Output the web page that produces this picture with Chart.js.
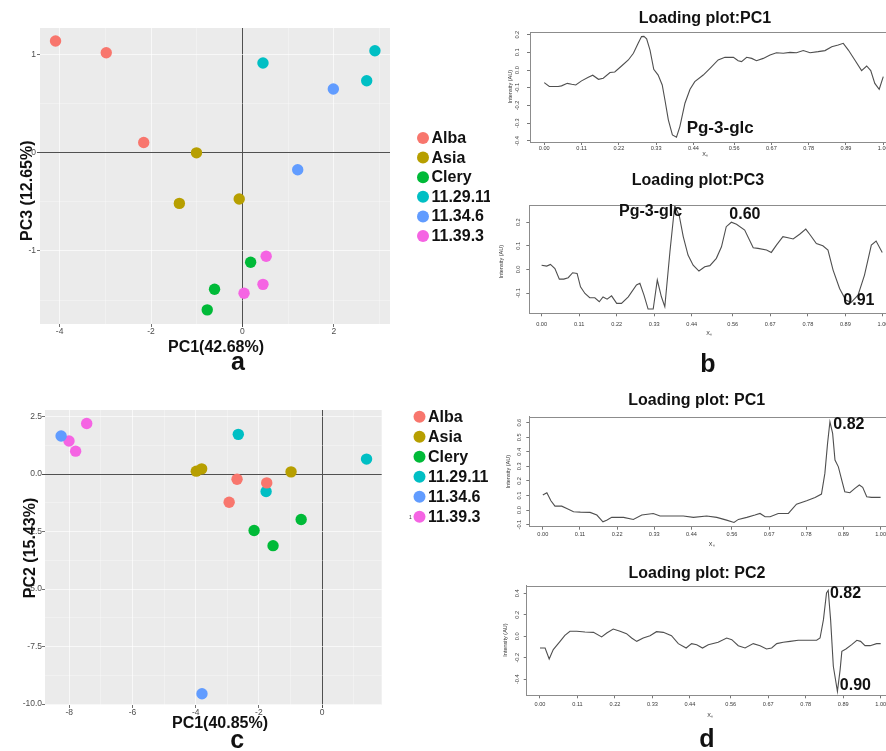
<!DOCTYPE html>
<html>
<head>
<meta charset="utf-8">
<script src="https://cdn.jsdelivr.net/npm/chart.js@4.4.1/dist/chart.umd.min.js"></script>
<style>
  html, body { margin: 0; padding: 0; background: #ffffff; }
  body { width: 886px; height: 751px; position: relative; overflow: hidden; }
  canvas { position: absolute; display: block; }
</style>
</head>
<body>
<canvas id="cA" width="490" height="378" style="left:0px;top:0px;width:490px;height:378px"></canvas>
<canvas id="cC" width="490" height="373" style="left:0px;top:378px;width:490px;height:373px"></canvas>
<canvas id="cB1" width="396" height="165" style="left:490px;top:0px;width:396px;height:165px"></canvas>
<canvas id="cB2" width="396" height="213" style="left:490px;top:165px;width:396px;height:213px"></canvas>
<canvas id="cD1" width="396" height="182" style="left:490px;top:378px;width:396px;height:182px"></canvas>
<canvas id="cD2" width="396" height="191" style="left:490px;top:560px;width:396px;height:191px"></canvas>
<script>
// ---------------- DATA ----------------
const GROUPS = ["Alba", "Asia", "Clery", "11.29.11", "11.34.6", "11.39.3"];
const GROUP_COLORS = ["#F8766D", "#B79F00", "#00BA38", "#00BFC4", "#619CFF", "#F564E3"];

// Panel a: PC1 vs PC3 scores
const A_ALBA_X = [-4.09, -2.98, -2.16];   const A_ALBA_Y = [1.14, 1.02, 0.105];
const A_ASIA_X = [-1.005, -1.38, -0.07];  const A_ASIA_Y = [0.0, -0.515, -0.47];
const A_CLERY_X = [0.18, -0.61, -0.77];   const A_CLERY_Y = [-1.115, -1.39, -1.60];
const A_G2911_X = [0.45, 2.90, 2.72];     const A_G2911_Y = [0.915, 1.04, 0.735];
const A_G346_X = [1.99, 1.21];            const A_G346_Y = [0.65, -0.173];
const A_G393_X = [0.52, 0.45, 0.036];     const A_G393_Y = [-1.054, -1.34, -1.43];
const A_X_TICKS = [-4, -2, 0, 2];         const A_X_LABELS = ["-4", "-2", "0", "2"];
const A_Y_TICKS = [1, 0, -1];             const A_Y_LABELS = ["1", "0", "-1"];

// Panel c: PC1 vs PC2 scores
const C_ALBA_X = [-2.69, -1.75, -2.94];   const C_ALBA_Y = [-0.22, -0.38, -1.22];
const C_ASIA_X = [-3.98, -3.81, -0.98];   const C_ASIA_Y = [0.13, 0.23, 0.10];
const C_CLERY_X = [-2.15, -0.66, -1.55];  const C_CLERY_Y = [-2.45, -1.97, -3.11];
const C_G2911_X = [-2.65, 1.41, -1.77];   const C_G2911_Y = [1.73, 0.655, -0.757];
const C_G346_X = [-8.26, -3.80];          const C_G346_Y = [1.66, -9.55];
const C_G393_X = [-7.45, -8.01, -7.80];   const C_G393_Y = [2.20, 1.44, 1.00];
const C_X_TICKS = [-8, -6, -4, -2, 0];    const C_X_LABELS = ["-8", "-6", "-4", "-2", "0"];
const C_Y_TICKS = [2.5, 0, -2.5, -5, -7.5, -10];
const C_Y_LABELS = ["2.5", "0.0", "-2.5", "-5.0", "-7.5", "-10.0"];

// Loading plots (x = relative position, y = intensity)
const LOAD_X_LABELS = ["0.00", "0.11", "0.22", "0.33", "0.44", "0.56", "0.67", "0.78", "0.89", "1.00"];

const B1_X = [0, 0.015, 0.041, 0.051, 0.068, 0.081, 0.093, 0.11, 0.13, 0.143, 0.16, 0.174, 0.194, 0.208, 0.228, 0.248, 0.263, 0.277, 0.287, 0.294, 0.302, 0.312, 0.323, 0.336, 0.348, 0.356, 0.366, 0.378, 0.39, 0.4, 0.415, 0.43, 0.444, 0.469, 0.489, 0.513, 0.533, 0.558, 0.572, 0.582, 0.597, 0.612, 0.626, 0.646, 0.666, 0.685, 0.705, 0.725, 0.744, 0.764, 0.784, 0.808, 0.828, 0.848, 0.867, 0.882, 0.897, 0.916, 0.936, 0.951, 0.963, 0.975, 0.988, 1.0];
const B1_Y = [-0.071, -0.093, -0.093, -0.089, -0.075, -0.080, -0.084, -0.061, -0.040, -0.029, -0.052, -0.046, -0.014, -0.011, 0.023, 0.057, 0.095, 0.151, 0.189, 0.190, 0.177, 0.113, 0.004, -0.028, -0.084, -0.169, -0.281, -0.366, -0.379, -0.319, -0.187, -0.108, -0.065, -0.028, 0.010, 0.057, 0.072, 0.072, 0.053, 0.048, 0.072, 0.066, 0.053, 0.066, 0.085, 0.098, 0.095, 0.100, 0.098, 0.110, 0.098, 0.104, 0.110, 0.132, 0.142, 0.151, 0.113, 0.057, -0.003, 0.023, -0.003, -0.075, -0.108, -0.037];
const B1_Y_LABELS = ["0.2", "0.1", "0.0", "-0.1", "-0.2", "-0.3", "-0.4"];

const B2_X = [0, 0.015, 0.026, 0.039, 0.052, 0.065, 0.078, 0.091, 0.104, 0.114, 0.127, 0.141, 0.156, 0.169, 0.18, 0.192, 0.205, 0.22, 0.234, 0.254, 0.278, 0.288, 0.3, 0.312, 0.327, 0.339, 0.351, 0.361, 0.376, 0.39, 0.403, 0.415, 0.429, 0.444, 0.461, 0.478, 0.493, 0.512, 0.527, 0.541, 0.556, 0.571, 0.595, 0.62, 0.634, 0.659, 0.673, 0.688, 0.707, 0.722, 0.737, 0.756, 0.774, 0.787, 0.805, 0.824, 0.839, 0.854, 0.873, 0.891, 0.907, 0.927, 0.946, 0.966, 0.98, 0.998];
const B2_Y = [0.018, 0.014, 0.021, 0.004, -0.041, -0.041, -0.035, -0.014, -0.017, -0.074, -0.102, -0.120, -0.120, -0.137, -0.117, -0.126, -0.112, -0.144, -0.144, -0.116, -0.066, -0.059, -0.109, -0.168, -0.168, -0.045, -0.116, -0.158, 0.075, 0.27, 0.23, 0.139, 0.061, 0.018, -0.007, 0.011, 0.016, 0.047, 0.096, 0.181, 0.200, 0.191, 0.167, 0.092, 0.089, 0.082, 0.072, 0.103, 0.139, 0.134, 0.129, 0.149, 0.171, 0.146, 0.110, 0.100, 0.082, -0.003, -0.081, -0.130, -0.140, -0.109, -0.024, 0.103, 0.120, 0.072];
const B2_Y_LABELS = ["0.2", "0.1", "0.0", "-0.1"];

const D1_X = [0, 0.012, 0.024, 0.036, 0.056, 0.071, 0.091, 0.111, 0.14, 0.16, 0.178, 0.189, 0.204, 0.239, 0.268, 0.293, 0.327, 0.347, 0.387, 0.416, 0.446, 0.485, 0.515, 0.544, 0.566, 0.579, 0.604, 0.628, 0.643, 0.658, 0.673, 0.697, 0.727, 0.751, 0.781, 0.806, 0.825, 0.835, 0.843, 0.85, 0.858, 0.865, 0.875, 0.885, 0.894, 0.909, 0.924, 0.937, 0.947, 0.959, 0.973, 1.0];
const D1_Y = [0.103, 0.119, 0.064, 0.027, 0.027, 0.011, -0.011, -0.014, -0.016, -0.034, -0.080, -0.069, -0.050, -0.050, -0.064, -0.034, -0.023, -0.041, -0.041, -0.041, -0.050, -0.041, -0.050, -0.069, -0.085, -0.064, -0.050, -0.034, -0.023, -0.046, -0.046, -0.023, -0.023, 0.041, 0.064, 0.087, 0.110, 0.252, 0.458, 0.606, 0.526, 0.343, 0.297, 0.206, 0.126, 0.119, 0.149, 0.172, 0.156, 0.092, 0.087, 0.087];
const D1_Y_LABELS = ["0.6", "0.5", "0.4", "0.3", "0.2", "0.1", "0.0", "-0.1"];

const D2_X = [0, 0.015, 0.027, 0.039, 0.059, 0.073, 0.088, 0.108, 0.132, 0.157, 0.181, 0.196, 0.215, 0.235, 0.254, 0.269, 0.284, 0.303, 0.323, 0.342, 0.362, 0.386, 0.406, 0.429, 0.445, 0.46, 0.477, 0.494, 0.523, 0.548, 0.563, 0.582, 0.602, 0.626, 0.646, 0.665, 0.68, 0.695, 0.714, 0.734, 0.758, 0.783, 0.812, 0.822, 0.832, 0.841, 0.846, 0.853, 0.861, 0.873, 0.881, 0.886, 0.898, 0.915, 0.93, 0.941, 0.954, 0.969, 0.988, 1.0];
const D2_Y = [-0.109, -0.109, -0.211, -0.124, -0.047, 0.009, 0.047, 0.047, 0.040, 0.037, -0.006, 0.031, 0.068, 0.047, 0.025, -0.016, -0.047, -0.016, 0.006, 0.043, 0.037, 0.006, -0.068, -0.109, -0.068, -0.078, -0.109, -0.078, -0.056, -0.016, -0.031, -0.087, -0.109, -0.068, -0.087, -0.118, -0.109, -0.068, -0.056, -0.047, -0.037, -0.037, -0.037, -0.016, 0.155, 0.403, 0.428, 0.155, -0.279, -0.512, -0.310, -0.140, -0.118, -0.078, -0.037, -0.047, -0.087, -0.087, -0.068, -0.068];
const D2_Y_LABELS = ["0.4", "0.2", "0.0", "-0.2", "-0.4"];

// Peak annotations (text, x, y in data units)
const B1_NOTES = [["Pg-3-glc", 0.42, -0.33]];
const B2_NOTES = [["Pg-3-glc", 0.227, 0.244], ["0.60", 0.55, 0.233], ["0.91", 0.884, -0.134]];
const D1_NOTES = [["0.82", 0.86, 0.584]];
const D2_NOTES = [["0.82", 0.851, 0.393], ["0.90", 0.88, -0.462]];

// ---------------- HELPERS ----------------
const FF = "'Liberation Sans', Arial, Helvetica, sans-serif";
const near = (a, b) => Math.abs(a - b) < 1e-9;

function textPlugin(items) {
  return {
    id: 'txt',
    afterDraw(chart) {
      const c = chart.ctx;
      items.forEach(it => {
        c.save();
        c.font = it.font;
        c.fillStyle = it.color || '#111111';
        c.textAlign = it.align || 'center';
        c.textBaseline = 'middle';
        c.translate(it.x, it.y);
        if (it.rot) c.rotate(it.rot * Math.PI / 180);
        c.fillText(it.t, 0, 0);
        c.restore();
      });
    }
  };
}

function notesPlugin(notes, font) {
  return {
    id: 'notes',
    afterDraw(chart) {
      const c = chart.ctx, sx = chart.scales.x, sy = chart.scales.y;
      c.save();
      c.font = font;
      c.fillStyle = '#111111';
      c.textAlign = 'left';
      c.textBaseline = 'middle';
      notes.forEach(n => c.fillText(n[0], sx.getPixelForValue(n[1]), sy.getPixelForValue(n[2])));
      c.restore();
    }
  };
}

const panelBg = {
  id: 'panelBg',
  beforeDraw(chart) {
    const a = chart.chartArea, c = chart.ctx;
    c.save();
    c.fillStyle = '#EBEBEB';
    c.fillRect(a.left, a.top, a.right - a.left, a.bottom - a.top);
    c.restore();
  }
};

function legendPlugin(lx, ly, gap, r) {
  return {
    id: 'lg',
    afterDraw(chart) {
      const c = chart.ctx;
      c.save();
      chart.data.datasets.forEach((ds, i) => {
        const y = ly + i * gap;
        c.beginPath();
        c.arc(lx, y, r, 0, Math.PI * 2);
        c.fillStyle = ds.backgroundColor;
        c.fill();
        c.font = "bold 16px " + FF;
        c.fillStyle = '#111111';
        c.textAlign = 'left';
        c.textBaseline = 'middle';
        c.fillText(ds.label, lx + r + 2.5, y + 0.5);
      });
      c.restore();
    }
  };
}

function scatterAxis(min, max, major, minor, labels, isX, size, tl, pad) {
  const all = major.concat(minor);
  const isMajor = v => major.some(m => near(m, v));
  return {
    type: 'linear', min: min, max: max,
    afterBuildTicks: s => { s.ticks = all.map(v => ({ value: v })); },
    afterFit: s => {
      if (isX) { s.height = size; s.paddingLeft = 0; s.paddingRight = 0; }
      else { s.width = size; s.paddingTop = 0; s.paddingBottom = 0; }
    },
    ticks: {
      autoSkip: false, maxRotation: 0, minRotation: 0, padding: pad,
      color: '#4D4D4D', font: { family: FF, size: 8.5 },
      callback: v => { const k = major.findIndex(m => near(m, v)); return k < 0 ? '' : labels[k]; }
    },
    grid: {
      color: c => (c.tick && near(c.tick.value, 0)) ? '#505050' : 'rgba(255,255,255,0.8)',
      lineWidth: c => (c.tick && near(c.tick.value, 0)) ? 1 : ((c.tick && isMajor(c.tick.value)) ? 0.8 : 0.4),
      tickColor: c => (c.tick && isMajor(c.tick.value)) ? '#4D4D4D' : 'rgba(0,0,0,0)',
      tickLength: tl
    },
    border: { display: false }
  };
}

function scatterChart(id, xs, ys, cfg) {
  const datasets = GROUPS.map((g, gi) => ({
    label: g,
    data: xs[gi].map((v, i) => ({ x: v, y: ys[gi][i] })),
    backgroundColor: GROUP_COLORS[gi],
    borderWidth: 0, pointRadius: 5.7, pointHoverRadius: 5.7
  }));
  return new Chart(document.getElementById(id), {
    type: 'scatter',
    data: { datasets: datasets },
    options: {
      responsive: false, animation: false, devicePixelRatio: 1, events: [],
      layout: { padding: cfg.pad },
      plugins: { legend: { display: false }, tooltip: { enabled: false }, title: { display: false } },
      scales: {
        x: scatterAxis(cfg.xMin, cfg.xMax, cfg.xMajor, cfg.xMinor, cfg.xLabels, true, cfg.xH, 3, cfg.xPad),
        y: scatterAxis(cfg.yMin, cfg.yMax, cfg.yMajor, cfg.yMinor, cfg.yLabels, false, cfg.yW, 3, cfg.yPad)
      }
    },
    plugins: [panelBg, textPlugin(cfg.texts), legendPlugin(cfg.lx, cfg.ly, cfg.lgap, 6)]
  });
}

const frameTop = {
  id: 'frameTop',
  afterDraw(chart) {
    const a = chart.chartArea, c = chart.ctx;
    c.save();
    c.strokeStyle = '#8C8C8C';
    c.lineWidth = 1;
    c.beginPath();
    c.moveTo(a.left, Math.round(a.top) + 0.5);
    c.lineTo(a.right, Math.round(a.top) + 0.5);
    c.stroke();
    c.restore();
  }
};

function loadingChart(id, X, Y, cfg) {
  const xVals = LOAD_X_LABELS.map(parseFloat);
  const yVals = cfg.yLabels.map(parseFloat);
  const tickFont = { family: FF, size: 5.6 };
  return new Chart(document.getElementById(id), {
    type: 'line',
    data: { datasets: [{ data: X.map((v, i) => ({ x: v, y: Y[i] })), borderColor: '#4F4F4F', borderWidth: 1.1, pointRadius: 0, tension: 0, fill: false }] },
    options: {
      responsive: false, animation: false, devicePixelRatio: 1, events: [],
      layout: { padding: cfg.pad },
      plugins: { legend: { display: false }, tooltip: { enabled: false }, title: { display: false } },
      scales: {
        x: {
          type: 'linear', min: cfg.xMin, max: cfg.xMax,
          afterBuildTicks: s => { s.ticks = xVals.map(v => ({ value: v })); },
          afterFit: s => { s.height = cfg.xH; s.paddingLeft = 0; s.paddingRight = 0; },
          ticks: { autoSkip: false, maxRotation: 0, minRotation: 0, padding: cfg.xPad, color: '#3A3A3A', font: tickFont,
                   callback: v => { const k = xVals.findIndex(m => near(m, v)); return k < 0 ? '' : LOAD_X_LABELS[k]; } },
          grid: { drawOnChartArea: false, tickLength: 3, tickColor: '#777777' },
          border: { display: true, color: '#8C8C8C', width: 1 }
        },
        y: {
          type: 'linear', min: cfg.yMin, max: cfg.yMax,
          afterBuildTicks: s => { s.ticks = yVals.map(v => ({ value: v })); },
          afterFit: s => { s.width = cfg.yW; s.paddingTop = 0; s.paddingBottom = 0; },
          ticks: { autoSkip: false, minRotation: 90, maxRotation: 90, crossAlign: 'center', padding: cfg.yPad, color: '#3A3A3A', font: tickFont,
                   callback: v => { const k = yVals.findIndex(m => near(m, v)); return k < 0 ? '' : cfg.yLabels[k]; } },
          grid: { drawOnChartArea: false, tickLength: 3, tickColor: '#777777' },
          border: { display: true, color: '#8C8C8C', width: 1 }
        }
      }
    },
    plugins: [frameTop, textPlugin(cfg.texts), notesPlugin(cfg.notes, cfg.noteFont || ("bold 16px " + FF))]
  });
}

// ---------------- CHARTS ----------------
const TITLE_FONT = "bold 16px " + FF;
const AXIS_FONT = "bold 16px " + FF;
const LETTER_FONT = "bold 25px " + FF;
const SMALL_FONT = "5.5px " + FF;

scatterChart('cA',
  [A_ALBA_X, A_ASIA_X, A_CLERY_X, A_G2911_X, A_G346_X, A_G393_X],
  [A_ALBA_Y, A_ASIA_Y, A_CLERY_Y, A_G2911_Y, A_G346_Y, A_G393_Y],
  {
    pad: { left: 0, top: 28, right: 100, bottom: 0 },
    xMin: -4.43, xMax: 3.23, xMajor: A_X_TICKS, xMinor: [-3, -1, 1, 3], xLabels: A_X_LABELS, xH: 54, xPad: 0,
    yMin: -1.744, yMax: 1.272, yMajor: A_Y_TICKS, yMinor: [0.5, -0.5, -1.5], yLabels: A_Y_LABELS, yW: 40, yPad: 1,
    lx: 423, ly: 138, lgap: 19.6,
    texts: [
      { t: 'PC1(42.68%)', x: 216, y: 348, font: AXIS_FONT },
      { t: 'PC3 (12.65%)', x: 27.7, y: 190.7, font: AXIS_FONT, rot: -90 },
      { t: 'a', x: 238, y: 363, font: LETTER_FONT }
    ]
  });

scatterChart('cC',
  [C_ALBA_X, C_ASIA_X, C_CLERY_X, C_G2911_X, C_G346_X, C_G393_X],
  [C_ALBA_Y, C_ASIA_Y, C_CLERY_Y, C_G2911_Y, C_G346_Y, C_G393_Y],
  {
    pad: { left: 0, top: 32, right: 108.3, bottom: 0 },
    xMin: -8.77, xMax: 1.89, xMajor: C_X_TICKS, xMinor: [-7, -5, -3, -1, 1], xLabels: C_X_LABELS, xH: 46, xPad: 0,
    yMin: -10.04, yMax: 2.79, yMajor: C_Y_TICKS, yMinor: [1.25, -1.25, -3.75, -6.25, -8.75], yLabels: C_Y_LABELS, yW: 45, yPad: 0,
    lx: 419.5, ly: 38.7, lgap: 20,
    texts: [
      { t: 'PC1(40.85%)', x: 220, y: 345.3, font: AXIS_FONT },
      { t: 'PC2 (15.43%)', x: 30.7, y: 170, font: AXIS_FONT, rot: -90 },
      { t: 'c', x: 237.3, y: 363, font: LETTER_FONT },
      { t: '1', x: 410.5, y: 140, font: "5px " + FF, color: '#333' }
    ]
  });

loadingChart('cB1', B1_X, B1_Y, {
  pad: { left: 0, top: 32, right: 0, bottom: 0 }, yW: 40, xH: 23, xPad: 0, yPad: 4.9,
  xMin: -0.042, xMax: 1.008, yMin: -0.406, yMax: 0.215, yLabels: B1_Y_LABELS,
  notes: B1_NOTES, noteFont: "bold 17px " + FF,
  texts: [
    { t: 'Loading plot:PC1', x: 215, y: 19, font: TITLE_FONT },
    { t: 'Intensity (AU)', x: 20.7, y: 86.7, font: SMALL_FONT, rot: -90, color: '#333' },
    { t: 'X\u2099', x: 215, y: 154, font: SMALL_FONT, color: '#333' }
  ]
});

loadingChart('cB2', B2_X, B2_Y, {
  pad: { left: 0, top: 40, right: 0, bottom: 0 }, yW: 39.3, xH: 64.7, xPad: 4.7, yPad: 3.2,
  xMin: -0.036, xMax: 1.009, yMin: -0.186, yMax: 0.273, yLabels: B2_Y_LABELS,
  notes: B2_NOTES, noteFont: "bold 16px " + FF,
  texts: [
    { t: 'Loading plot:PC3', x: 208, y: 15.7, font: TITLE_FONT },
    { t: 'Intensity (AU)', x: 11.7, y: 96.7, font: SMALL_FONT, rot: -90, color: '#333' },
    { t: 'X\u2099', x: 219, y: 168, font: SMALL_FONT, color: '#333' },
    { t: 'b', x: 218, y: 200, font: LETTER_FONT }
  ]
});

loadingChart('cD1', D1_X, D1_Y, {
  pad: { left: 0, top: 38.7, right: 0, bottom: 0 }, yW: 39.3, xH: 33.3, xPad: 1, yPad: 2.2,
  xMin: -0.040, xMax: 1.016, yMin: -0.114, yMax: 0.641, yLabels: D1_Y_LABELS,
  notes: D1_NOTES, noteFont: "bold 16px " + FF,
  texts: [
    { t: 'Loading plot: PC1', x: 206.7, y: 22.7, font: TITLE_FONT },
    { t: 'Intensity (AU)', x: 18.3, y: 93.7, font: SMALL_FONT, rot: -90, color: '#333' },
    { t: 'X\u2099', x: 221.7, y: 166, font: SMALL_FONT, color: '#333' }
  ]
});

loadingChart('cD2', D2_X, D2_Y, {
  pad: { left: 0, top: 25.7, right: 0, bottom: 0 }, yW: 36.7, xH: 55.7, xPad: 2.7, yPad: 1.6,
  xMin: -0.039, xMax: 1.0156, yMin: -0.549, yMax: 0.471, yLabels: D2_Y_LABELS,
  notes: D2_NOTES, noteFont: "bold 16px " + FF,
  texts: [
    { t: 'Loading plot: PC2', x: 207, y: 14, font: TITLE_FONT },
    { t: 'Intensity (AU)', x: 15, y: 80, font: SMALL_FONT, rot: -90, color: '#333' },
    { t: 'X\u2099', x: 220, y: 155, font: SMALL_FONT, color: '#333' },
    { t: 'd', x: 217, y: 180, font: LETTER_FONT }
  ]
});
</script>
</body>
</html>
